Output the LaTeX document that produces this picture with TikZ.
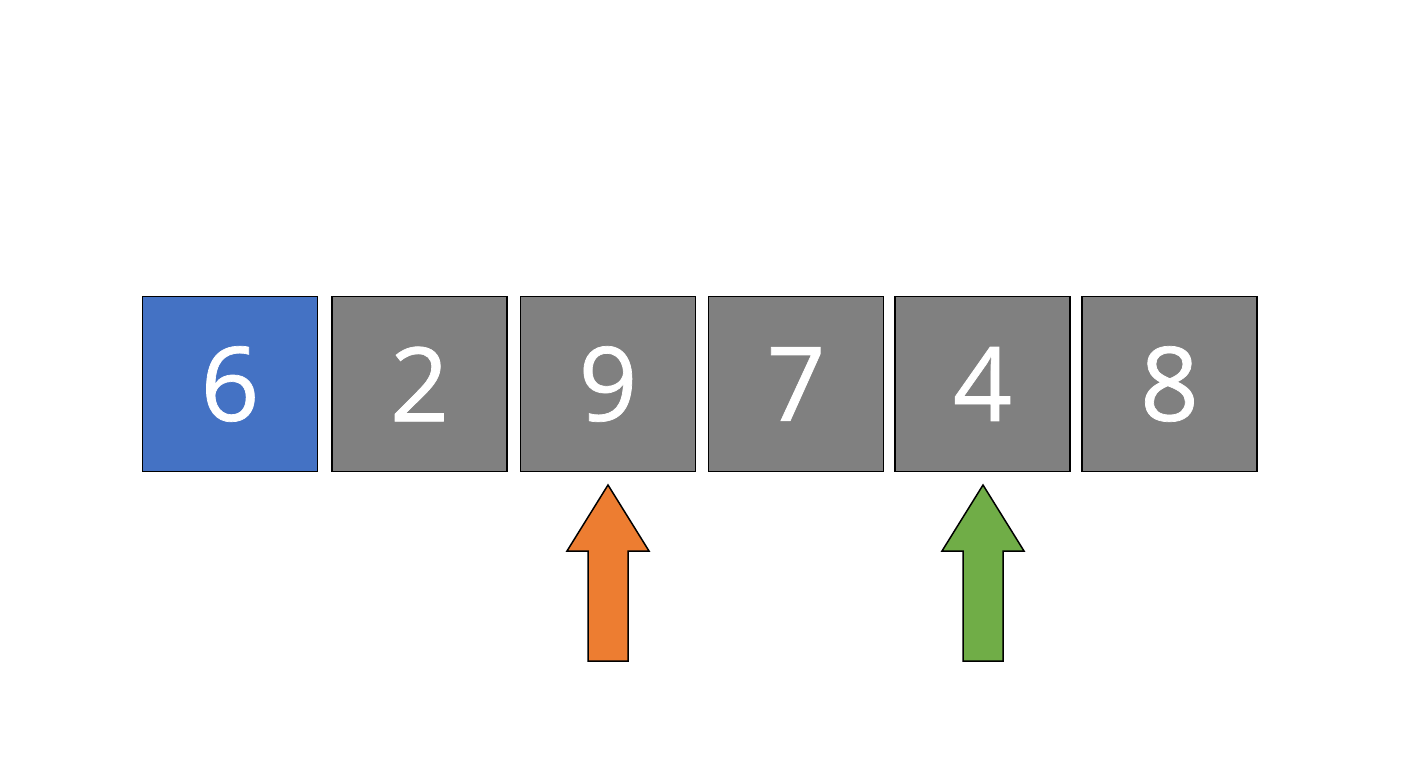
\documentclass[tikz,border=0pt]{standalone}
\usepackage{fontspec}
\newfontfamily\cellfont{Open Sans}[BoldFont={Open Sans}, BoldFeatures={FakeBold=0.7}]
\usepackage{xcolor}
\usepackage{tikz}
\definecolor{cellblue}{HTML}{4472C4}
\definecolor{cellgray}{HTML}{808080}
\definecolor{ptrorange}{HTML}{ED7D31}
\definecolor{ptrgreen}{HTML}{70AD47}

\begin{document}
\begin{tikzpicture}[x=1pt, y=-1pt]
\tikzstyle{cell}=[rectangle, draw=black, line width=1.5pt, minimum width=175pt, minimum height=175pt, inner sep=0pt, text=white, font=\cellfont\bfseries\fontsize{103}{103}\selectfont]
\tikzstyle{pointer}=[draw=black, line width=1.5pt, line join=miter]
\useasboundingbox (0,0) rectangle (1408,768);

\node[cell, fill=cellblue] (c1) at (230,384) {6};
\node[cell, fill=cellgray] (c2) at (419.5,384) {2};
\node[cell, fill=cellgray] (c3) at (608,384) {9};
\node[cell, fill=cellgray] (c4) at (796,384) {7};
\node[cell, fill=cellgray] (c5) at (982.5,384) {4};
\node[cell, fill=cellgray] (c6) at (1169.5,384) {8};

% pointers under the cells
\coordinate (tipA) at (608,485);
\coordinate (tipB) at (983,485);
\draw[pointer, fill=ptrorange] (tipA) -- ++(41,66) -- ++(-21,0) -- ++(0,110) -- ++(-40,0) -- ++(0,-110) -- ++(-21,0) -- cycle;
\draw[pointer, fill=ptrgreen] (tipB) -- ++(41,66) -- ++(-21,0) -- ++(0,110) -- ++(-40,0) -- ++(0,-110) -- ++(-21,0) -- cycle;

\end{tikzpicture}
\end{document}
